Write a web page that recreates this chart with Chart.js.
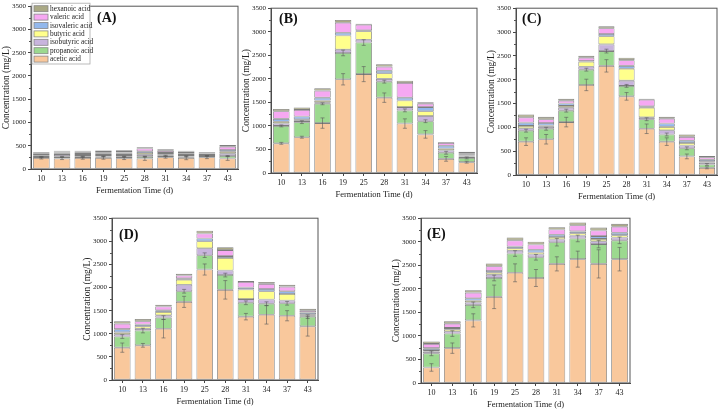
<!DOCTYPE html>
<html>
<head>
<meta charset="utf-8">
<script src="https://cdn.jsdelivr.net/npm/chart.js@4.4.1/dist/chart.umd.min.js"></script>
<style>
  body { margin: 0; background: #fff; width: 725px; height: 411px; overflow: hidden; position: relative; }
  canvas { position: absolute; }
</style>
</head>
<body>
<canvas id="chartA"></canvas>
<canvas id="chartB"></canvas>
<canvas id="chartC"></canvas>
<canvas id="chartD"></canvas>
<canvas id="chartE"></canvas>
<script>
// Data
const days = ['10', '13', '16', '19', '25', '28', '31', '34', '37', '43'];
const acidNames = ['acetic acid', 'propanoic acid', 'isobutyric acid', 'butyric acid', 'isovaleric acid', 'valeric acid', 'hexanoic acid'];
const acidColors = ['#F9C89C', '#9CD98F', '#C8B4DD', '#FFFF8C', '#93B8EC', '#F6A8F2', '#AAA985'];

// rows: acetic, propanoic, isobutyric, butyric, isovaleric, valeric, hexanoic
const valuesA = [
  [235, 228, 235, 240, 233, 226, 253, 240, 253, 226],
  [25, 34, 30, 30, 32, 39, 32, 30, 27, 54],
  [25, 38, 35, 30, 35, 40, 30, 30, 20, 50],
  [15, 30, 25, 30, 30, 40, 30, 30, 20, 40],
  [30, 25, 25, 30, 25, 35, 20, 15, 15, 40],
  [15, 20, 25, 30, 30, 60, 40, 30, 10, 70],
  [17, 20, 17, 15, 20, 26, 20, 17, 13, 34]
];
const valuesB = [
  [630, 760, 1060, 1990, 2100, 1600, 1050, 820, 300, 230],
  [370, 320, 410, 560, 670, 340, 280, 280, 130, 90],
  [50, 30, 30, 70, 60, 60, 70, 110, 50, 30],
  [40, 30, 40, 300, 180, 120, 140, 100, 40, 20],
  [60, 60, 60, 60, 20, 50, 60, 90, 60, 20],
  [160, 140, 150, 210, 120, 90, 310, 70, 60, 30],
  [50, 50, 50, 60, 20, 50, 50, 30, 20, 30]
];
const valuesC = [
  [700, 750, 1110, 1890, 2290, 1650, 970, 700, 390, 150],
  [230, 220, 240, 320, 310, 220, 200, 150, 170, 70],
  [50, 40, 60, 60, 140, 110, 40, 90, 60, 40],
  [50, 30, 40, 110, 170, 250, 200, 70, 50, 20],
  [70, 50, 50, 10, 50, 60, 30, 70, 50, 40],
  [110, 80, 60, 70, 120, 120, 140, 100, 80, 50],
  [60, 50, 40, 40, 40, 50, 20, 40, 50, 30]
];
const valuesD = [
  [700, 750, 1110, 1690, 2390, 1950, 1370, 1410, 1390, 1160],
  [240, 320, 240, 230, 310, 320, 300, 240, 270, 210],
  [50, 40, 50, 140, 150, 100, 80, 90, 60, 30],
  [40, 50, 70, 110, 150, 270, 210, 180, 140, 20],
  [70, 40, 40, 30, 60, 40, 40, 50, 60, 40],
  [120, 70, 80, 60, 110, 130, 120, 110, 100, 40],
  [50, 50, 40, 40, 60, 60, 20, 40, 40, 40]
];
const valuesE = [
  [330, 740, 1330, 1830, 2340, 2230, 2530, 2630, 2530, 2630],
  [300, 310, 330, 400, 410, 440, 460, 440, 420, 400],
  [40, 50, 50, 70, 60, 60, 60, 60, 60, 60],
  [30, 40, 40, 40, 50, 40, 50, 50, 50, 50],
  [40, 30, 50, 40, 40, 60, 50, 40, 60, 50],
  [90, 90, 120, 100, 130, 110, 110, 130, 120, 130],
  [50, 50, 50, 60, 60, 60, 50, 60, 60, 60]
];

// error bars (acetic, propanoic)
const aceticErrA = [20, 25, 25, 30, 30, 40, 20, 40, 30, 40];
const propanoicErrA = [10, 10, 10, 10, 10, 10, 10, 10, 10, 10];
const aceticErrB = [20, 20, 110, 120, 160, 100, 100, 80, 50, 20];
const propanoicErrB = [20, 30, 20, 60, 60, 30, 30, 30, 30, 20];
const aceticErrC = [80, 100, 100, 120, 130, 80, 100, 80, 50, 20];
const propanoicErrC = [30, 30, 30, 30, 40, 30, 30, 30, 30, 20];
const aceticErrD = [100, 40, 200, 120, 120, 200, 70, 200, 110, 210];
const propanoicErrD = [40, 50, 40, 40, 50, 40, 40, 40, 40, 40];
const aceticErrE = [80, 110, 140, 250, 190, 180, 150, 170, 300, 250];
const propanoicErrE = [50, 60, 60, 60, 60, 60, 80, 70, 80, 70];

const serif = '"Liberation Serif", "Times New Roman", serif';

// frame, minor ticks, error bars, panel tag, inside legend
const panelExtras = {
  id: 'panelExtras',
  afterDatasetsDraw(chart, args, opts) {
    const ctx = chart.ctx;
    const a = chart.chartArea;
    const y = chart.scales.y;
    ctx.save();

    // error bars
    ctx.strokeStyle = '#5a5a5a';
    ctx.lineWidth = 0.6;
    opts.errors.forEach((errRow, di) => {
      if (!errRow) return;
      const meta = chart.getDatasetMeta(di);
      meta.data.forEach((bar, i) => {
        let top = 0;
        for (let k = 0; k <= di; k++) top += chart.data.datasets[k].data[i];
        const y1 = y.getPixelForValue(top + errRow[i]);
        const y2 = y.getPixelForValue(top - errRow[i]);
        ctx.beginPath();
        ctx.moveTo(bar.x, y1); ctx.lineTo(bar.x, y2);
        ctx.moveTo(bar.x - 2, y1); ctx.lineTo(bar.x + 2, y1);
        ctx.moveTo(bar.x - 2, y2); ctx.lineTo(bar.x + 2, y2);
        ctx.stroke();
      });
    });

    // frame
    ctx.strokeStyle = '#555';
    ctx.lineWidth = 1;
    ctx.strokeRect(a.left, a.top, a.right - a.left, a.bottom - a.top);

    // minor ticks
    ctx.beginPath();
    for (let v = 250; v < 3500; v += 500) {
      const py = Math.round(y.getPixelForValue(v)) + 0.5;
      ctx.moveTo(a.left - 2, py); ctx.lineTo(a.left, py);
    }
    ctx.stroke();

    // panel tag
    ctx.fillStyle = '#111';
    ctx.font = 'bold 14px ' + serif;
    ctx.textBaseline = 'middle';
    ctx.textAlign = 'left';
    ctx.fillText(opts.tag, a.left + opts.tagX, a.top + opts.tagY);

    // legend inside plot (reverse order)
    if (opts.legend) {
      const lx = a.left + 1, ly = a.top - 3, lw = 58, rowH = 8.4;
      ctx.fillStyle = '#fff';
      ctx.fillRect(lx, ly, lw, rowH * 7 + 2);
      ctx.strokeStyle = '#aaa';
      ctx.lineWidth = 0.8;
      ctx.strokeRect(lx, ly, lw, rowH * 7 + 2);
      ctx.font = '7.3px ' + serif;
      for (let r = 0; r < 7; r++) {
        const idx = 6 - r;
        const ry = ly + 1.5 + r * rowH;
        ctx.fillStyle = acidColors[idx];
        ctx.fillRect(lx + 2, ry + 1, 14, 6);
        ctx.strokeStyle = '#888';
        ctx.strokeRect(lx + 2, ry + 1, 14, 6);
        ctx.fillStyle = '#222';
        ctx.fillText(acidNames[idx], lx + 18, ry + 4.2);
      }
    }
    ctx.restore();
  }
};

function makePanel(id, box, values, errors, tag, tagX, tagY, legend) {
  const cv = document.getElementById(id);
  cv.width = box.w + 35;
  cv.height = box.h + 33;
  cv.style.left = (box.x - 30) + 'px';
  cv.style.top = (box.y - 5) + 'px';

  return new Chart(cv, {
    type: 'bar',
    data: {
      labels: days,
      datasets: acidNames.map((name, i) => ({
        label: name,
        data: values[i],
        backgroundColor: acidColors[i],
        borderColor: '#7e7e7e',
        borderWidth: 0.8,
        borderSkipped: false,
        barPercentage: 0.8,
        categoryPercentage: 1
      }))
    },
    options: {
      responsive: false,
      animation: false,
      layout: { padding: { left: 0, right: 5, top: 5, bottom: 0 } },
      plugins: {
        legend: { display: false },
        tooltip: { enabled: false },
        panelExtras: { errors: errors, tag: tag, tagX: tagX, tagY: tagY, legend: legend }
      },
      scales: {
        x: {
          stacked: true,
          afterFit: s => { s.height = 28; },
          grid: { display: true, drawOnChartArea: false, offset: false, tickLength: 3, color: '#444' },
          border: { display: true, color: '#444' },
          ticks: { color: '#222', padding: 2, font: { family: serif, size: 8 } },
          title: { display: true, text: 'Fermentation Time (d)', color: '#222', padding: { top: 0, bottom: 1 }, font: { family: serif, size: 8.5 } }
        },
        y: {
          stacked: true,
          min: 0,
          max: 3500,
          afterFit: s => { s.width = 30; },
          grid: { display: true, drawOnChartArea: false, tickLength: 3, color: '#444' },
          border: { display: true, color: '#444' },
          ticks: { stepSize: 500, color: '#222', padding: 2, font: { family: serif, size: 7 }, callback: v => String(v) },
          title: { display: true, text: 'Concentration (mg/L)', color: '#222', padding: 0, font: { family: serif, size: 9.5 } }
        }
      }
    },
    plugins: [panelExtras]
  });
}

makePanel('chartA', { x: 31, y: 5, w: 207, h: 164 }, valuesA, [aceticErrA, propanoicErrA], '(A)', 66, 12, true);
makePanel('chartB', { x: 271, y: 7, w: 206, h: 166 }, valuesB, [aceticErrB, propanoicErrB], '(B)', 8, 11, false);
makePanel('chartC', { x: 516, y: 7, w: 201, h: 168 }, valuesC, [aceticErrC, propanoicErrC], '(C)', 6, 11, false);
makePanel('chartD', { x: 112, y: 217, w: 206, h: 163 }, valuesD, [aceticErrD, propanoicErrD], '(D)', 7, 17, false);
makePanel('chartE', { x: 421, y: 217, w: 209, h: 166 }, valuesE, [aceticErrE, propanoicErrE], '(E)', 6, 16, false);
</script>
</body>
</html>
